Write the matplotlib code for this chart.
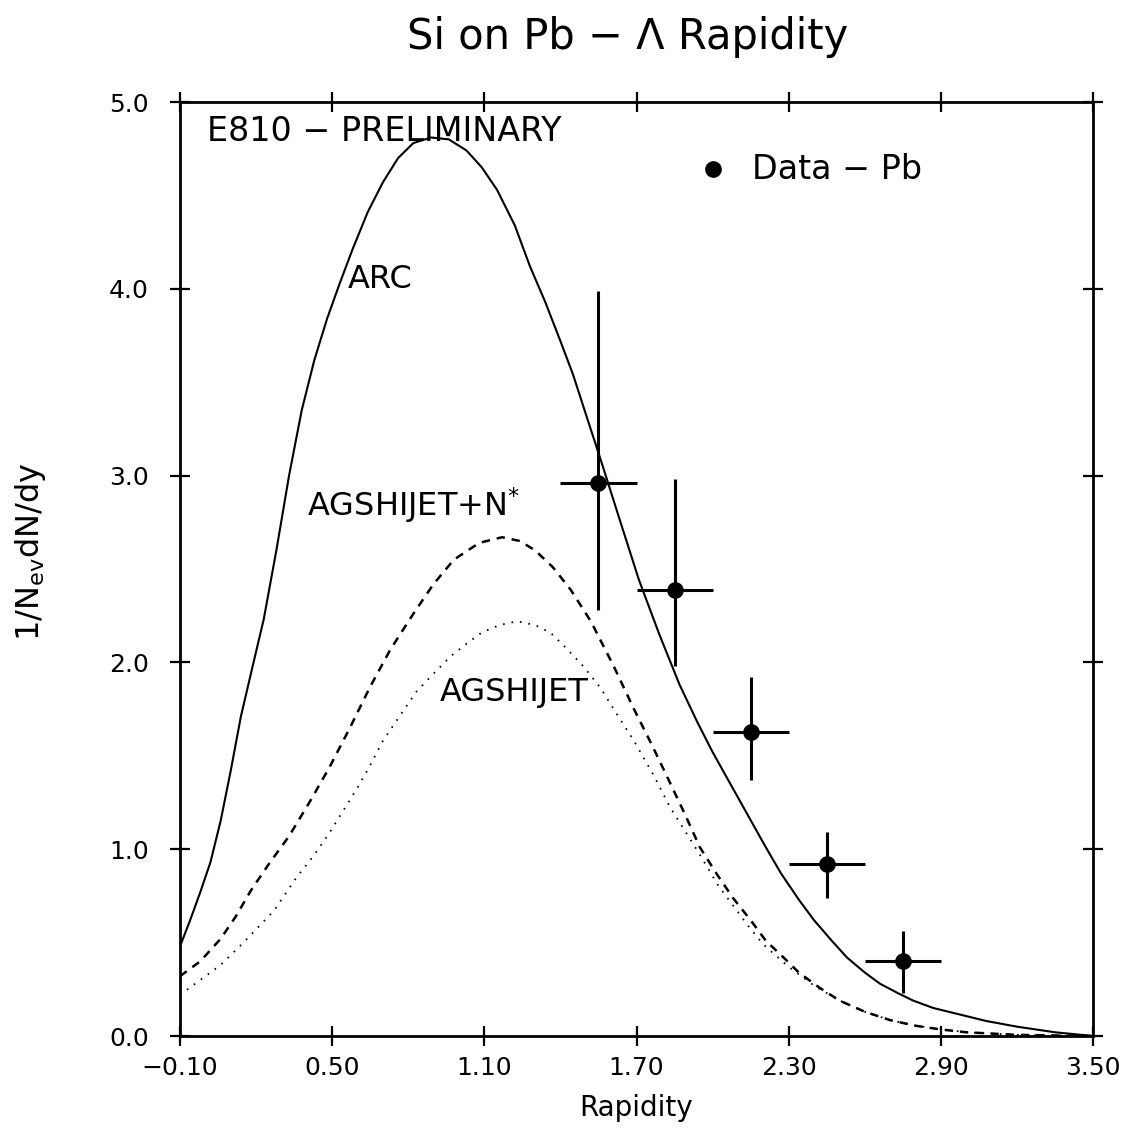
import matplotlib
matplotlib.use("Agg")
import matplotlib.pyplot as plt

plt.rcParams['font.family'] = ['DejaVu Sans']
plt.rcParams['lines.scale_dashes'] = False
plt.rcParams['mathtext.default'] = 'regular'

# ---- data ----
arc_x = [-0.10, -0.06, -0.02, 0.02, 0.06, 0.10, 0.14, 0.19, 0.23, 0.28, 0.33, 0.38, 0.43,
         0.48, 0.53, 0.58, 0.64, 0.70, 0.76, 0.82, 0.89, 0.96, 1.03, 1.09, 1.15, 1.22,
         1.28, 1.34, 1.40, 1.45, 1.50, 1.56, 1.63, 1.71, 1.79, 1.87, 1.94, 2.00, 2.07,
         2.14, 2.21, 2.27, 2.34, 2.40, 2.47, 2.53, 2.60, 2.66, 2.73, 2.79, 2.87, 2.96,
         3.08, 3.20, 3.35, 3.50]
arc_y = [0.48, 0.62, 0.77, 0.93, 1.15, 1.42, 1.71, 2.00, 2.23, 2.60, 3.00, 3.35, 3.62,
         3.84, 4.03, 4.21, 4.41, 4.57, 4.70, 4.78, 4.81, 4.80, 4.74, 4.65, 4.53, 4.34,
         4.12, 3.93, 3.72, 3.54, 3.33, 3.08, 2.78, 2.44, 2.15, 1.88, 1.68, 1.52, 1.35,
         1.18, 1.01, 0.87, 0.73, 0.62, 0.51, 0.42, 0.34, 0.28, 0.23, 0.19, 0.15, 0.12,
         0.08, 0.05, 0.02, 0.0]

nstar_x = [-0.10, -0.02, 0.06, 0.12, 0.18, 0.25, 0.33, 0.41, 0.49, 0.57, 0.65, 0.73, 0.82,
           0.90, 0.98, 1.08, 1.17, 1.24, 1.30, 1.37, 1.44, 1.52, 1.61, 1.69, 1.76, 1.82,
           1.89, 1.95, 2.02, 2.08, 2.15, 2.21, 2.28, 2.34, 2.42, 2.50, 2.60, 2.70, 2.80,
           2.90, 3.00, 3.20, 3.50]
nstar_y = [0.32, 0.40, 0.52, 0.64, 0.78, 0.92, 1.07, 1.25, 1.44, 1.65, 1.87, 2.07, 2.26,
           2.42, 2.55, 2.64, 2.67, 2.65, 2.60, 2.51, 2.39, 2.22, 1.98, 1.75, 1.56, 1.39,
           1.19, 1.01, 0.86, 0.74, 0.62, 0.51, 0.42, 0.34, 0.26, 0.19, 0.13, 0.085, 0.055,
           0.035, 0.02, 0.006, 0.0]

agshijet_x = [-0.10, -0.02, 0.06, 0.15, 0.27, 0.36, 0.43, 0.49, 0.55, 0.60, 0.65, 0.70,
              0.77, 0.83, 0.90, 0.965, 1.03, 1.09, 1.16, 1.23, 1.30, 1.36, 1.42, 1.49,
              1.56, 1.61, 1.69, 1.77, 1.83, 1.89, 1.95, 2.02, 2.08, 2.14, 2.20, 2.30,
              2.40, 2.50, 2.60, 2.70, 2.80, 3.00, 3.20, 3.50]
agshijet_y = [0.22, 0.30, 0.38, 0.50, 0.67, 0.85, 0.97, 1.09, 1.22, 1.33, 1.45, 1.58,
              1.72, 1.84, 1.94, 2.03, 2.10, 2.16, 2.20, 2.22, 2.20, 2.16, 2.08, 1.98,
              1.86, 1.75, 1.58, 1.39, 1.23, 1.10, 0.97, 0.81, 0.70, 0.59, 0.49, 0.37,
              0.27, 0.19, 0.13, 0.085, 0.055, 0.02, 0.006, 0.0]

data_x = [1.55, 1.85, 2.15, 2.45, 2.75]
data_y = [2.96, 2.39, 1.63, 0.92, 0.40]
data_err_lo = [0.68, 0.41, 0.26, 0.18, 0.17]
data_err_hi = [1.03, 0.59, 0.29, 0.17, 0.16]
data_xerr = [0.15, 0.15, 0.15, 0.15, 0.15]

xticks = [-0.10, 0.50, 1.10, 1.70, 2.30, 2.90, 3.50]
xticklabels = ['\u22120.10', '0.50', '1.10', '1.70', '2.30', '2.90', '3.50']
yticks = [0.0, 1.0, 2.0, 3.0, 4.0, 5.0]
yticklabels = ['0.0', '1.0', '2.0', '3.0', '4.0', '5.0']

# ---- figure ----
fig = plt.figure(figsize=(11.30, 11.31), dpi=100)
ax = fig.add_axes([180/1130, 1-1036/1131, 913/1130, 934/1131])

ax.plot(arc_x, arc_y, color='black', lw=1.5)
ax.plot(nstar_x, nstar_y, color='black', lw=1.8, dashes=(6, 5))
ax.plot(agshijet_x, agshijet_y, color='black', lw=1.3, dashes=(1.2, 5))

ax.errorbar(data_x, data_y, yerr=[data_err_lo, data_err_hi], xerr=data_xerr,
            fmt='o', color='black', ms=11, elinewidth=2.2, capsize=0)

ax.set_xlim(-0.10, 3.50)
ax.set_ylim(0.0, 5.0)
ax.set_xticks(xticks)
ax.set_xticklabels(xticklabels)
ax.set_yticks(yticks)
ax.set_yticklabels(yticklabels)
ax.tick_params(axis='both', which='major', direction='inout', length=15, width=1.6,
               top=True, right=True, labelsize=18, color='black')
ax.tick_params(axis='x', pad=7)
ax.tick_params(axis='y', pad=15)
for sp in ax.spines.values():
    sp.set_linewidth(2.0)

ax.set_xlabel('Rapidity', fontsize=20)
ax.xaxis.set_label_coords(0.5, -0.062)
ax.set_ylabel('1/N$_{ev}$dN/dy', fontsize=23)
ax.yaxis.set_label_coords(-0.145, 0.519)

# annotations
ax.text(0.006, 4.84, 'E810 \u2212 PRELIMINARY', fontsize=24, va='center', ha='left')
ax.text(0.56, 4.05, 'ARC', fontsize=23, va='center', ha='left')
ax.text(0.40, 2.84, 'AGSHIJET+N$^{*}$', fontsize=23, va='center', ha='left')
ax.text(0.925, 1.84, 'AGSHIJET', fontsize=23, va='center', ha='left')
ax.plot([2.00], [4.64], 'o', color='black', ms=11)
ax.text(2.155, 4.64, 'Data \u2212 Pb', fontsize=24, va='center', ha='left')

fig.text(628/1130, 1-37/1131, 'Si on Pb \u2212 \u039b Rapidity', fontsize=30,
         ha='center', va='center')

fig.savefig('out.png', dpi=100, facecolor='white')
